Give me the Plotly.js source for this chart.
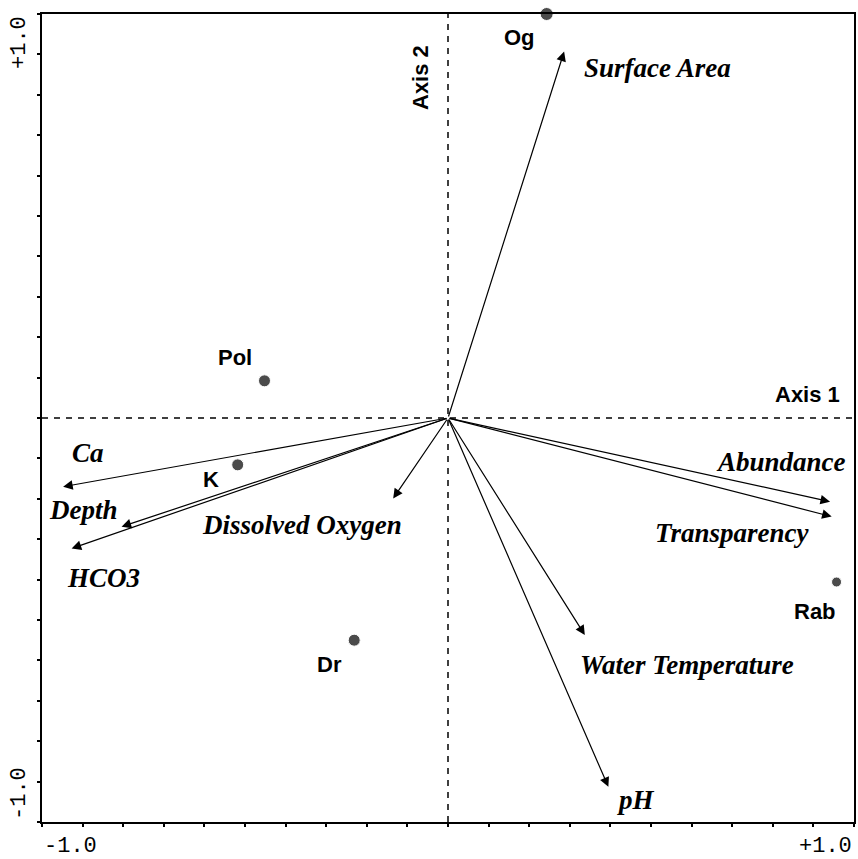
<!DOCTYPE html>
<html>
<head>
<meta charset="utf-8">
<script src="https://cdn.plot.ly/plotly-3.0.1.min.js"></script>
<style>html,body{margin:0;padding:0;background:#fff;}#chart{width:858px;height:859px;}</style>
</head>
<body>
<div id="chart"></div>
<script>
// Sites (sample scores)
var siteNames = ['Og', 'Pol', 'K', 'Dr', 'Rab'];
var siteX = [0.243, -0.452, -0.518, -0.231, 0.957];
var siteY = [1.0, 0.092, -0.116, -0.550, -0.406];
var siteLabelX = [0.177, -0.525, -0.584, -0.291, 0.904];
var siteLabelY = [0.943, 0.149, -0.153, -0.611, -0.480];

// Environmental variables (arrow tips)
var varNames = ['Surface Area', 'Ca', 'Depth', 'HCO3', 'Dissolved Oxygen', 'Abundance', 'Transparency', 'Water Temperature', 'pH'];
var varX = [0.286, -0.948, -0.804, -0.927, -0.135, 0.941, 0.945, 0.337, 0.395];
var varY = [0.907, -0.170, -0.269, -0.323, -0.199, -0.207, -0.244, -0.537, -0.913];
var varLabelX = [0.330, -0.931, -0.988, -0.943, -0.611, 0.985, 0.505, 0.320, 0.411];
var varLabelY = [0.866, -0.087, -0.228, -0.396, -0.265, -0.109, -0.285, -0.611, -0.946];
var varLabelAnchor = ['left', 'left', 'left', 'left', 'left', 'right', 'left', 'left', 'left'];

var axisNames = ['Axis 1', 'Axis 2'];
var tickLabels = ['-1.0', '+1.0'];
var axisMin = -1, axisMax = 1;

var siteSizes = [13, 12, 12, 12, 10];

var traces = [{
  type: 'scatter', mode: 'markers',
  x: siteX, y: siteY,
  marker: {color: '#000', size: siteSizes},
  cliponaxis: false, hoverinfo: 'skip', showlegend: false
}];

var ann = [];
var sansBold = {family: '"Liberation Sans", Arial, sans-serif', size: 22, color: '#000'};
var serifBI = {family: '"Liberation Serif", "Times New Roman", serif', size: 27, color: '#000'};
var mono = {family: '"Liberation Mono", "Courier New", monospace', size: 22, color: '#000'};

for (var i = 0; i < varNames.length; i++) {
  ann.push({x: varX[i], y: varY[i], xref: 'x', yref: 'y', ax: 0, ay: 0, axref: 'x', ayref: 'y',
    text: '', showarrow: true, arrowhead: 2, arrowsize: 1.6, arrowwidth: 1.2, arrowcolor: '#000', standoff: 0, startstandoff: 0});
  ann.push({x: varLabelX[i], y: varLabelY[i], xref: 'x', yref: 'y', showarrow: false,
    text: '<b><i>' + varNames[i] + '</i></b>', xanchor: varLabelAnchor[i], yanchor: 'middle', font: serifBI});
}
for (var j = 0; j < siteNames.length; j++) {
  ann.push({x: siteLabelX[j], y: siteLabelY[j], xref: 'x', yref: 'y', showarrow: false,
    text: '<b>' + siteNames[j] + '</b>', xanchor: 'center', yanchor: 'middle', font: sansBold});
}
// axis names
ann.push({x: 0.97, y: 0.057, xref: 'x', yref: 'y', showarrow: false, text: '<b>' + axisNames[0] + '</b>', xanchor: 'right', yanchor: 'middle', font: sansBold});
ann.push({x: -0.069, y: 0.844, xref: 'x', yref: 'y', showarrow: false, text: '<b>' + axisNames[1] + '</b>', textangle: -90, xanchor: 'center', yanchor: 'middle', font: sansBold});
// tick labels at the ends
ann.push({x: 0, y: 0, xref: 'paper', yref: 'paper', showarrow: false, text: tickLabels[0], xanchor: 'left', yanchor: 'top', yshift: -10, font: mono});
ann.push({x: 1, y: 0, xref: 'paper', yref: 'paper', showarrow: false, text: tickLabels[1], xanchor: 'right', yanchor: 'top', yshift: -10, font: mono});
ann.push({x: 0, y: 1, xref: 'paper', yref: 'paper', showarrow: false, text: tickLabels[1], textangle: -90, xanchor: 'right', yanchor: 'top', xshift: -8, font: mono});
ann.push({x: 0, y: 0, xref: 'paper', yref: 'paper', showarrow: false, text: tickLabels[0], textangle: -90, xanchor: 'right', yanchor: 'bottom', xshift: -8, font: mono});

var layout = {
  width: 858, height: 859,
  margin: {l: 42, r: 4, t: 14, b: 37},
  paper_bgcolor: '#fff', plot_bgcolor: '#fff',
  showlegend: false,
  xaxis: {range: [axisMin, axisMax], showgrid: false, zeroline: false, showline: true, mirror: true,
    linecolor: '#000', linewidth: 2, ticks: 'outside', ticklen: 3, tickwidth: 2, tickcolor: '#000',
    tick0: -1, dtick: 0.1, showticklabels: false, fixedrange: true},
  yaxis: {range: [axisMin, axisMax], showgrid: false, zeroline: false, showline: true, mirror: true,
    linecolor: '#000', linewidth: 2, ticks: 'outside', ticklen: 3, tickwidth: 2, tickcolor: '#000',
    tick0: -1, dtick: 0.1, showticklabels: false, fixedrange: true},
  shapes: [
    {type: 'line', xref: 'x', yref: 'y', x0: 0, x1: 0, y0: axisMin, y1: axisMax, line: {color: '#000', width: 1.5, dash: '6px,6px'}},
    {type: 'line', xref: 'x', yref: 'y', x0: axisMin, x1: axisMax, y0: 0, y1: 0, line: {color: '#000', width: 1.5, dash: '6px,6px'}}
  ],
  annotations: ann
};

Plotly.newPlot('chart', traces, layout, {displayModeBar: false, staticPlot: true});
</script>
</body>
</html>
